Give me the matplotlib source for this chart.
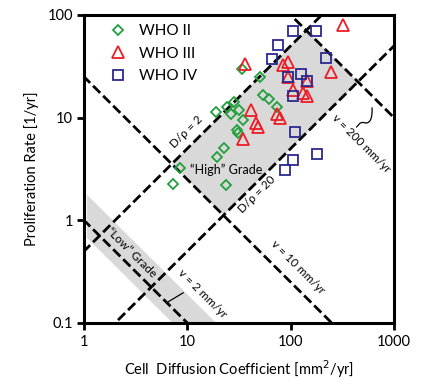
import matplotlib
matplotlib.use("Agg")
import matplotlib.pyplot as plt
import numpy as np
from matplotlib.path import Path
from matplotlib.patches import PathPatch

plt.rcParams['font.family'] = ['Lato', 'DejaVu Sans']

# cell diffusion coefficient [mm^2/yr] and proliferation rate [1/yr]
who2_D = [33.6, 50.6, 18.9, 24.2, 28.3, 26.5, 31.5, 34.4, 30.5, 31.0,
          22.7, 19.2, 8.4, 7.3, 23.7, 53.5, 61.8, 73.1]
who2_rho = [30.0, 24.7, 11.3, 12.7, 14.2, 10.9, 11.9, 9.5, 7.5, 7.1,
            5.1, 4.1, 3.2, 2.24, 2.22, 16.7, 15.1, 12.6]

who3_D = [319, 36.2, 85, 93.7, 246, 95, 143, 105, 133, 143,
          40.9, 46.2, 47.8, 34.8, 73.3, 79]
who3_rho = [80.5, 33.6, 32.3, 34.8, 27.8, 24.9, 22.8, 18.4, 17.4, 16.1,
            12.0, 8.9, 8.1, 6.2, 10.9, 10.0]

who4_D = [106, 174, 75, 66.5, 220, 126, 93.7, 143, 105, 110, 178, 106, 88.3]
who4_rho = [69.7, 69.7, 51.4, 37.5, 37.8, 26.8, 24.7, 22.8, 16.3, 7.2, 4.4, 3.84, 3.10]

# guide lines: D/rho ratios and wave speeds v = 2*sqrt(D*rho)
ratios = [2, 20]
speeds = [2, 10, 200]

# shaded "High" grade: 2 <= D/rho <= 20, 10 <= v <= 200
high_ratio = (2, 20)
high_speed = (10, 200)
# shaded "Low" grade band around v = 2 (bounds on D*rho)
low_prod = (0.72, 1.9)
low_D_start = 1.06

fig = plt.figure(figsize=(4.27, 3.79), dpi=100)
ax = fig.add_axes([0.1967, 0.1478, 0.726, 0.8127])
ax.set_xscale('log')
ax.set_yscale('log')
ax.set_xlim(1, 1000)
ax.set_ylim(0.1, 100)

grey = '#d9d9d9'

# high grade polygon
r_lo, r_hi = high_ratio
p_lo, p_hi = (high_speed[0] / 2) ** 2, (high_speed[1] / 2) ** 2
corners = []
for p, r in [(p_lo, r_hi), (p_lo, r_lo), (p_hi, r_lo), (p_hi, r_hi)]:
    d = np.sqrt(p * r)
    corners.append((d, d / r))
hx = [c[0] for c in corners]
hy = [c[1] for c in corners]
ax.fill(hx, hy, color=grey, lw=0, zorder=1)

# low grade band
dd = np.array([low_D_start, 1000])
ax.fill_between(dd, low_prod[0] / dd, low_prod[1] / dd, color=grey, lw=0, zorder=1)

xl = np.array([0.5, 2000])
for r in ratios:
    ax.plot(xl, xl / r, color='black', lw=2, dashes=(3.6, 1.5), zorder=2)
for v in speeds:
    ax.plot(xl, (v / 2) ** 2 / xl, color='black', lw=2, dashes=(3.6, 1.5), zorder=2)

ax.plot(who2_D, who2_rho, 'D', ls='none', ms=5.2, mfc='none', mec='#22a03c', mew=1.3,
        label='WHO II', zorder=3)
ax.plot(who3_D, who3_rho, '^', ls='none', ms=8.5, mfc='none', mec='#ee1c24', mew=1.3,
        label='WHO III', zorder=3)
ax.plot(who4_D, who4_rho, 's', ls='none', ms=7.5, mfc='none', mec='#2b2990', mew=1.3,
        label='WHO IV', zorder=3)

leg = ax.legend(loc='upper left', bbox_to_anchor=(0.086, 0.97), frameon=False,
                borderaxespad=0, borderpad=0, handlelength=1.0, handletextpad=0.85,
                labelspacing=0.55, fontsize=11, numpoints=1)

# annotations
ax.text(0.332, 0.620, 'D/ρ = 2', transform=ax.transAxes, rotation=45,
        ha='center', va='center', fontsize=8.5)
ax.text(0.458, 0.497, '“High” Grade', transform=ax.transAxes,
        ha='center', va='center', fontsize=9)
ax.text(0.558, 0.416, 'D/ρ = 20', transform=ax.transAxes, rotation=45,
        ha='center', va='center', fontsize=8.5)
ax.text(0.690, 0.182, 'v = 10 mm/yr', transform=ax.transAxes, rotation=-45,
        ha='center', va='center', fontsize=8.5)
ax.text(0.894, 0.581, 'v = 200 mm/yr', transform=ax.transAxes, rotation=-45,
        ha='center', va='center', fontsize=8.5)
ax.text(0.381, 0.094, 'v = 2 mm/yr', transform=ax.transAxes, rotation=-45,
        ha='center', va='center', fontsize=8.5)
ax.text(0.155, 0.227, '“Low” Grade', transform=ax.transAxes, rotation=-45,
        ha='center', va='center', fontsize=8.5, zorder=1.5)

# leader marks
ax.plot([0.272, 0.320], [0.069, 0.098], transform=ax.transAxes, color='black', lw=0.9)
sq = Path([(0.929, 0.700), (0.931, 0.670), (0.925, 0.645), (0.905, 0.650),
           (0.888, 0.655), (0.885, 0.640), (0.878, 0.635)],
          [Path.MOVETO, Path.CURVE4, Path.CURVE4, Path.CURVE4,
           Path.CURVE4, Path.CURVE4, Path.CURVE4])
ax.add_patch(PathPatch(sq, transform=ax.transAxes, fc='none', ec='black', lw=0.9))

for s in ax.spines.values():
    s.set_linewidth(2.2)
ax.minorticks_off()
ax.tick_params(which='major', direction='out', length=5, width=2, labelsize=10.5)
ax.tick_params(axis='x', pad=4)
ax.tick_params(axis='y', pad=3)
ax.set_xticks([1, 10, 100, 1000])
ax.set_xticklabels(['1', '10', '100', '1000'])
ax.set_yticks([0.1, 1, 10, 100])
ax.set_yticklabels(['0.1', '1', '10', '100'])

ax.set_xlabel('Cell  Diffusion Coefficient [mm$^{2}$/yr]', fontsize=10.5, labelpad=6)
ax.set_ylabel('Proliferation Rate [1/yr]', fontsize=10.5, labelpad=6)

fig.savefig('out.png', dpi=100)
